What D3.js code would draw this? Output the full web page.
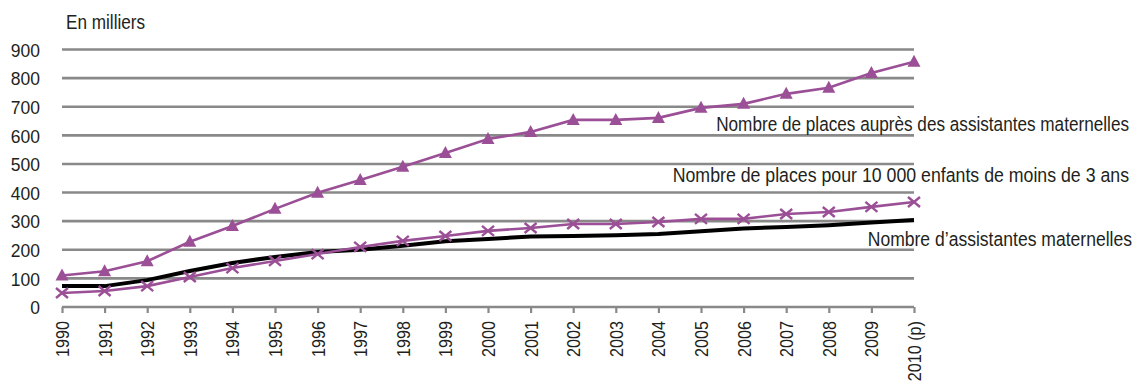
<!DOCTYPE html>
<html>
<head>
<meta charset="utf-8">
<script src="https://cdn.jsdelivr.net/npm/d3@7"></script>
<style>
  html, body { margin: 0; padding: 0; background: #fff; }
  svg text { font-family: "Liberation Sans", Arial, sans-serif; fill: #231f20; }
</style>
</head>
<body>
<svg id="chart" width="1133" height="385"></svg>
<script>
// Years on the horizontal axis
const years = ["1990","1991","1992","1993","1994","1995","1996","1997","1998","1999","2000",
               "2001","2002","2003","2004","2005","2006","2007","2008","2009","2010 (p)"];

// Nombre de places auprès des assistantes maternelles (milliers)
const placesAM = [110,125,160,228,283,343,399,444,490,538,587,612,654,654,661,696,710,745,766,818,857];

// Nombre de places pour 10 000 enfants de moins de 3 ans
const placesPour10000 = [49,56,73,105,136,161,185,210,231,248,266,276,290,290,297,308,308,325,332,350,367];

// Nombre d'assistantes maternelles (milliers)
const nbAssistantes = [73,73,94,126,154,175,192,200,214,230,238,246,248,251,255,265,274,280,286,295,304];

const yTicks = [0,100,200,300,400,500,600,700,800,900];

const purple = "#9b4f96";
const grid = "#898989";

// Condensed-looking text: horizontal squeeze along the reading direction
const labelFont = 19.5, labelSqueeze = 0.88;
const tickFont = 18.6, tickSqueeze = 0.94;
const yearFont = 18, yearSqueeze = 0.9;

const svg = d3.select("#chart");

const x = d3.scalePoint().domain(years).range([62, 914]);
const y = d3.scaleLinear().domain([0, 900]).range([307, 49.5]);

// Horizontal gridlines
svg.append("g").selectAll("line").data(yTicks).join("line")
  .attr("x1", 62).attr("x2", 914)
  .attr("y1", d => y(d)).attr("y2", d => y(d))
  .attr("stroke", grid).attr("stroke-width", 2.6);

// Y axis labels
const yAxis = d3.axisLeft(y).tickValues(yTicks).tickSize(0).tickPadding(0);
svg.append("g").attr("transform", "translate(40,0)").call(yAxis)
  .call(g => g.select(".domain").remove())
  .call(g => g.selectAll("text").attr("font-size", tickFont + "px")
    .attr("font-family", null).attr("fill", "#231f20")
    .attr("x", 0).attr("dy", "0.36em")
    .attr("transform", `scale(${tickSqueeze},1)`));

// X axis with tick marks and rotated year labels
const xAxis = d3.axisBottom(x).tickSize(6).tickPadding(0);
svg.append("g").attr("transform", "translate(0,307)").call(xAxis)
  .call(g => g.select(".domain").remove())
  .call(g => g.selectAll(".tick line").attr("stroke", grid).attr("stroke-width", 2.2))
  .call(g => g.selectAll("text")
    .attr("font-size", yearFont + "px").attr("font-family", null).attr("fill", "#231f20")
    .attr("text-anchor", "end")
    .attr("transform", `translate(0,14) rotate(-90) scale(${yearSqueeze},1)`)
    .attr("x", 0).attr("y", 0).attr("dy", "0.36em"));

// Unit label
svg.append("text").attr("transform", `translate(66,28.5) scale(${labelSqueeze},1)`)
  .attr("font-size", labelFont + "px").text("En milliers");

const line = d3.line().x((d, i) => x(years[i])).y(d => y(d));

// Black series
svg.append("path").datum(nbAssistantes).attr("d", line)
  .attr("fill", "none").attr("stroke", "#000").attr("stroke-width", 4).attr("stroke-linejoin", "round");

// Cross series
svg.append("path").datum(placesPour10000).attr("d", line)
  .attr("fill", "none").attr("stroke", purple).attr("stroke-width", 2.6);
svg.append("g").selectAll("path").data(placesPour10000).join("path")
  .attr("transform", (d, i) => `translate(${x(years[i])},${y(d)})`)
  .attr("d", "M-6,-5L6,5M-6,5L6,-5")
  .attr("stroke", purple).attr("stroke-width", 2.4).attr("fill", "none");

// Triangle series
svg.append("path").datum(placesAM).attr("d", line)
  .attr("fill", "none").attr("stroke", purple).attr("stroke-width", 2.6);
svg.append("g").selectAll("path").data(placesAM).join("path")
  .attr("transform", (d, i) => `translate(${x(years[i])},${y(d)})`)
  .attr("d", "M0,-7L6.5,5L-6.5,5Z")
  .attr("fill", purple);

// Series labels
const labels = [
  { text: "Nombre de places auprès des assistantes maternelles", x: 1129, y: 130.5, sq: labelSqueeze },
  { text: "Nombre de places pour 10 000 enfants de moins de 3 ans", x: 1129, y: 181.5, sq: 0.91 },
  { text: "Nombre d\u2019assistantes maternelles", x: 1132, y: 245.5, sq: 0.9 }
];
svg.append("g").selectAll("text").data(labels).join("text")
  .attr("transform", d => `translate(${d.x},${d.y}) scale(${d.sq},1)`)
  .attr("text-anchor", "end").attr("font-size", labelFont + "px")
  .text(d => d.text);
</script>
</body>
</html>
